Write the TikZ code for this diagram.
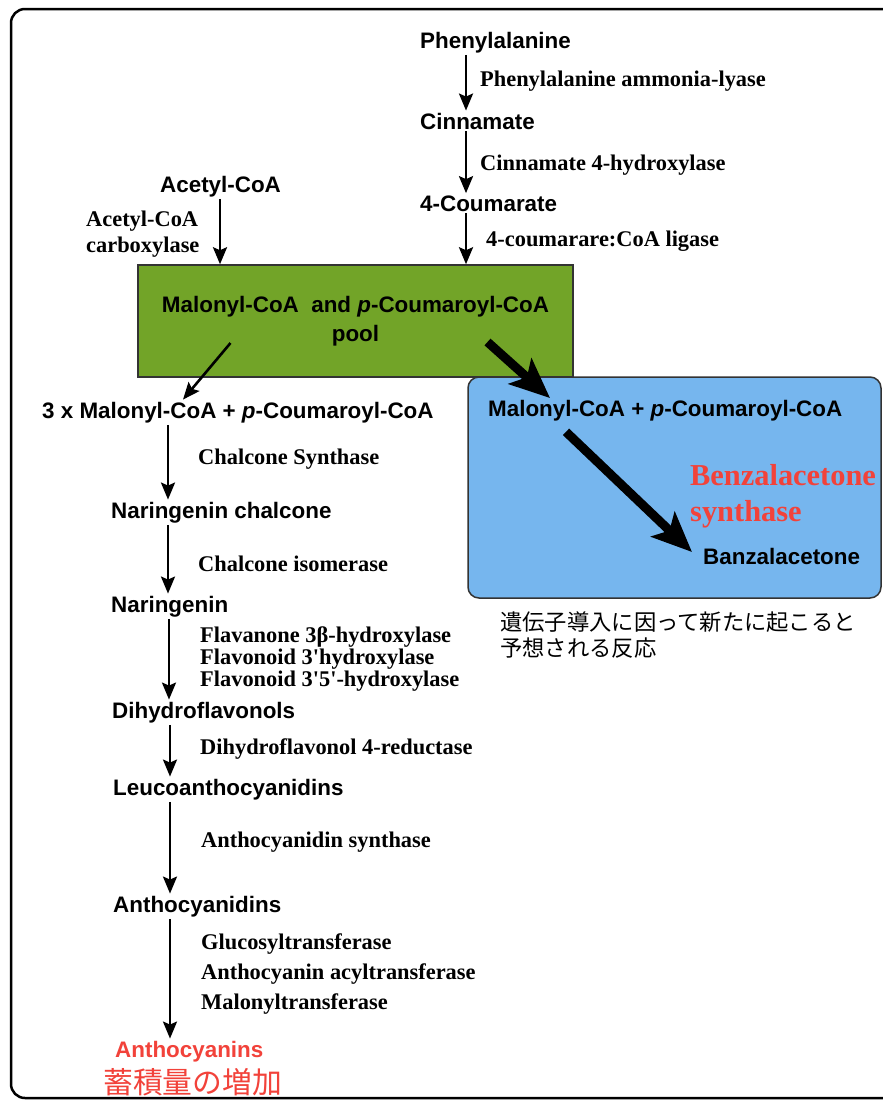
\documentclass[tikz,border=0pt]{standalone}
\usepackage{fontspec}
\setmainfont{Liberation Serif}
\setsansfont{Liberation Sans}
\newfontfamily\jpfont{Noto Sans CJK JP}
\usetikzlibrary{arrows.meta}
\definecolor{poolgreen}{RGB}{114,164,40}
\definecolor{bsblue}{RGB}{118,182,238}
\definecolor{hired}{RGB}{242,66,58}

\begin{document}
\begin{tikzpicture}[x=1pt,y=-1pt,
	cpd/.style={anchor=base west,inner xsep=0pt,inner ysep=2pt,font=\sffamily\bfseries\fontsize{22.4}{26}\selectfont},
	enz/.style={anchor=base west,inner sep=0pt,align=left,font=\rmfamily\bfseries\fontsize{22.4}{22}\selectfont},
	conv/.style={-{Stealth[length=17pt,width=14pt,inset=3pt]},line width=2.6pt},
	bigconv/.style={-{Stealth[length=40pt,width=34pt,inset=9pt]},line width=9pt}]
			\useasboundingbox (0,0) rectangle (883,1101);
			\clip (0,0) rectangle (883,1101);
			\fill[white] (0,0) rectangle (883,1101);
			\draw[line width=2.5pt, rounded corners=14pt] (11,9) rectangle (905,1098);
			
			% phenylpropanoid side
			\node[cpd] (phe) at (420,48) {Phenylalanine};
			\node[cpd] (cin) at (420,129) {Cinnamate};
			\node[cpd] (cou) at (420,211) {4-Coumarate};
			\node[cpd] (ace) at (160,192) {Acetyl-CoA};
			
			\node[enz] (pal) at (480,86) {Phenylalanine ammonia-lyase};
			\node[enz] (c4h) at (480,170) {Cinnamate 4-hydroxylase};
			\node[enz] (cl4) at (486,246) {4-coumarare:CoA ligase};
			\node[enz,anchor=west,font=\rmfamily\bfseries\fontsize{22.4}{26}\selectfont] (acc) at (86,234) {Acetyl-CoA\\carboxylase};
			
			% boxes
			\node[draw=black!80, line width=1.5pt, fill=bsblue, rounded corners=11pt, minimum width=413pt, minimum height=221pt] (bsbox) at (674.5,487.5) {};
			\node[draw=black!80, line width=1.5pt, fill=poolgreen, minimum width=435pt, minimum height=112pt, align=center, font=\sffamily\bfseries\fontsize{22.4}{29}\selectfont] (pool) at (355.5,321) {Malonyl-CoA\ \ and \textit{p}-Coumaroyl-CoA\\pool};
			
			\path [conv] ([xshift=46pt]phe.south west) edge ([xshift=46pt]cin.north west);
			\path [conv] ([xshift=46pt]cin.south west) edge ([xshift=46pt]cou.north west);
			\path [conv] ([xshift=46pt]cou.south west) edge ([xshift=46pt]cou.south west |- pool.north);
			\path [conv] ([xshift=60pt]ace.south west) edge ([xshift=60pt]ace.south west |- pool.north);
			
			% flavonoid pathway
			\node[cpd] (mal3) at (42,418) {3 x Malonyl-CoA + \textit{p}-Coumaroyl-CoA};
			\node[cpd] (narch) at (111,518) {Naringenin chalcone};
			\node[cpd] (nar) at (111,612) {Naringenin};
			\node[cpd] (dhf) at (112,718) {Dihydroflavonols};
			\node[cpd] (leu) at (113,795) {Leucoanthocyanidins};
			\node[cpd] (acd) at (113,912) {Anthocyanidins};
			\node[cpd,text=hired] (acn) at (115,1057) {Anthocyanins};
			\node[anchor=west,inner sep=0pt,text=hired,font=\jpfont\fontsize{29.8}{34}\selectfont] (accum) at (103,1082) {蓄積量の増加};
			
			\node[enz] (chs) at (198,464) {Chalcone Synthase};
			\node[enz] (chi) at (198,571) {Chalcone isomerase};
			\node[enz,anchor=west] (f3h) at (200,659) {Flavanone 3β-hydroxylase\\Flavonoid 3\textquotesingle hydroxylase\\Flavonoid 3\textquotesingle 5\textquotesingle -hydroxylase};
			\node[enz] (dfr) at (200,754) {Dihydroflavonol 4-reductase};
			\node[enz] (ans) at (201,847) {Anthocyanidin synthase};
			\node[enz,anchor=west,font=\rmfamily\bfseries\fontsize{22.4}{30}\selectfont] (gt) at (201,974) {Glucosyltransferase\\Anthocyanin acyltransferase\\Malonyltransferase};
			
			\path [conv] ([shift={(-125,22)}]pool.center) edge ([xshift=141pt]mal3.north west);
			\path [conv] ([xshift=57pt]narch.north west |- mal3.south) edge ([xshift=57pt]narch.north west);
			\path [conv] ([xshift=57pt]nar.north west |- narch.south) edge ([xshift=57pt]nar.north west);
			\path [conv] ([xshift=57pt]dhf.north west |- nar.south) edge ([xshift=57pt]dhf.north west);
			\path [conv] ([xshift=57pt]leu.north west |- dhf.south) edge ([xshift=57pt]leu.north west);
			\path [conv] ([xshift=57pt]acd.north west |- leu.south) edge ([xshift=57pt]acd.north west);
			\path [conv] ([xshift=57pt]acd.south west |- acd.south) edge ([xshift=55pt]acn.north west);
			
			% benzalacetone side
			\node[cpd] (bmal) at (488,416) {Malonyl-CoA + \textit{p}-Coumaroyl-CoA};
			\node[cpd] (bza) at (703,564) {Banzalacetone};
			\node[anchor=west,inner sep=0pt,align=left,text=hired,font=\rmfamily\bfseries\fontsize{30.4}{36}\selectfont] (bas) at (690,496) {Benzalacetone\\synthase};
			\node[anchor=west,inner sep=0pt,align=left,font=\jpfont\fontsize{22.3}{26}\selectfont] (note) at (500,635) {遺伝子導入に因って新たに起こると\\予想される反応};
			
			\path [bigconv] ([shift={(132,21)}]pool.center) edge ([shift={(62,-18)}]bmal.base west);
			\path [bigconv] ([shift={(78,9)}]bmal.south west) edge ([shift={(-11,-12)}]bza.base west);
			\end{tikzpicture}
\end{document}
